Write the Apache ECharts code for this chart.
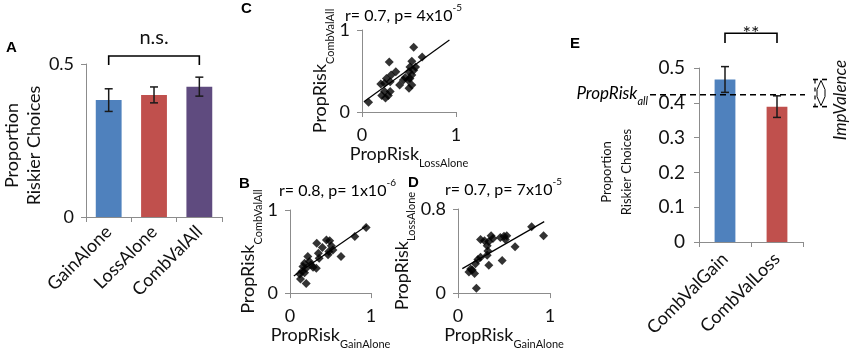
<!DOCTYPE html>
<html>
<head>
<meta charset="utf-8">
<script src="https://cdn.jsdelivr.net/npm/echarts@6/dist/echarts.min.js"></script>
<style>
  html, body { margin: 0; padding: 0; background: #fff; }
  #main { width: 851px; height: 351px; }
</style>
</head>
<body>
<div id="main"></div>
<script>
// ---- panel A: bar chart ----
const catsA = ['GainAlone', 'LossAlone', 'CombValAll'];
const meanA = [0.382, 0.399, 0.426];
const errA = [0.037, 0.026, 0.031];
const ticksA = [0, 0.5];

// ---- panel E: bar chart ----
const catsE = ['CombValGain', 'CombValLoss'];
const meanE = [0.467, 0.389];
const errE = [0.037, 0.031];
const propRiskAll = 0.423;

// ---- scatter panels, [x, y] ----
const scatterC = [
  [0.07, 0.12], [0.55, 0.79], [0.64, 0.67], [0.29, 0.61], [0.36, 0.49], [0.31, 0.45],
  [0.26, 0.41], [0.24, 0.35], [0.20, 0.34], [0.30, 0.37], [0.40, 0.33], [0.46, 0.42],
  [0.50, 0.49], [0.51, 0.55], [0.53, 0.62], [0.55, 0.51], [0.51, 0.41], [0.49, 0.39],
  [0.53, 0.45], [0.53, 0.33], [0.50, 0.29], [0.24, 0.25], [0.30, 0.25], [0.21, 0.20],
  [0.28, 0.20], [0.25, 0.17], [0.44, 0.39], [0.57, 0.55]
];
const fitC = [[0.02, 0.126], [0.93, 0.878]];

const scatterB = [
  [0.94, 0.79], [0.80, 0.68], [0.63, 0.44], [0.33, 0.60], [0.45, 0.64], [0.49, 0.63],
  [0.51, 0.57], [0.53, 0.52], [0.48, 0.50], [0.47, 0.46], [0.35, 0.48], [0.36, 0.42],
  [0.22, 0.44], [0.24, 0.38], [0.18, 0.36], [0.26, 0.34], [0.325, 0.30], [0.16, 0.32],
  [0.20, 0.30], [0.15, 0.26], [0.12, 0.23], [0.18, 0.245], [0.13, 0.17], [0.20, 0.115],
  [0.40, 0.55], [0.285, 0.31]
];
const fitB = [[0.047, 0.206], [0.95, 0.814]];

const scatterD = [
  [0.80, 0.63], [0.93, 0.545], [0.62, 0.44], [0.48, 0.31], [0.50, 0.54], [0.515, 0.51],
  [0.46, 0.53], [0.36, 0.545], [0.245, 0.51], [0.335, 0.49], [0.317, 0.45], [0.325, 0.40],
  [0.317, 0.36], [0.335, 0.265], [0.245, 0.34], [0.216, 0.32], [0.19, 0.28], [0.137, 0.23],
  [0.119, 0.20], [0.18, 0.187], [0.155, 0.22], [0.20, 0.047], [0.53, 0.545], [0.288, 0.497],
  [0.38, 0.52]
];
const fitD = [[0.047, 0.233], [0.937, 0.68]];

const FONT = 'Lato';
const GRAY = '#8c8c8c';
const INK = '#111';
const barColorsA = ['#4f81bd', '#c0504d', '#5f4b7f'];
const barColorsE = ['#4f81bd', '#c0504d'];

const chart = echarts.init(document.getElementById('main'));

const axisLine = { show: true, onZero: false, lineStyle: { color: GRAY, width: 1 } };
const axisTick = { show: true, length: 5, lineStyle: { color: GRAY, width: 1 } };

const subRich = {
  m: { fontFamily: FONT, fontSize: 18, color: INK, lineHeight: 24, verticalAlign: 'top' },
  s: { fontFamily: FONT, fontSize: 11, color: INK, lineHeight: 11, verticalAlign: 'bottom' }
};
const supRich = {
  m: { fontFamily: FONT, fontSize: 16, color: INK, lineHeight: 21, verticalAlign: 'bottom' },
  s: { fontFamily: FONT, fontSize: 10, color: INK, lineHeight: 10, verticalAlign: 'top' }
};

const grids = [
  { left: 73, top: 64, width: 149, height: 153 },   // A
  { left: 362, top: 30, width: 94, height: 82 },    // C
  { left: 290, top: 210, width: 81, height: 86 },   // B
  { left: 458, top: 209, width: 92, height: 86 },   // D
  { left: 699, top: 68, width: 104, height: 174 }   // E
];

const catAxis = (gi, cats, margin) => ({
  type: 'category', gridIndex: gi, data: cats,
  axisLine, axisTick: Object.assign({}, axisTick, { alignWithLabel: false }),
  axisLabel: { rotate: 45, margin, fontFamily: FONT, fontSize: 18, color: INK }
});

const valAxis = (gi, max, interval, extra) => Object.assign({
  type: 'value', gridIndex: gi, min: 0, max, interval,
  axisLine, axisTick, splitLine: { show: false },
  axisLabel: { margin: 12, fontFamily: FONT, fontSize: 18, color: INK }
}, extra || {});

const subName = (main, sub) => `{m|${main}}{s|${sub}}`;

const scatterX = (gi, sub, gap) => valAxis(gi, 1, 1, {
  name: subName('PropRisk', sub), nameLocation: 'middle', nameGap: gap,
  nameTextStyle: { rich: subRich },
  axisLabel: { margin: 14, fontFamily: FONT, fontSize: 18, color: INK }
});
const scatterY = (gi, max, sub, gap) => valAxis(gi, max, max, {
  name: subName('PropRisk', sub), nameLocation: 'middle', nameGap: gap,
  nameTextStyle: { rich: subRich }
});

function errSeries(xi, cats, means, errs) {
  return {
    type: 'custom', xAxisIndex: xi, yAxisIndex: xi, z: 5, silent: true,
    data: cats.map((c, i) => [i, means[i] - errs[i], means[i] + errs[i]]),
    renderItem: (params, api) => {
      const lo = api.coord([api.value(0), api.value(1)]);
      const hi = api.coord([api.value(0), api.value(2)]);
      const w = 4;
      const st = { stroke: '#1a1a1a', lineWidth: 1.5 };
      return {
        type: 'group', children: [
          { type: 'line', shape: { x1: hi[0], y1: hi[1], x2: lo[0], y2: lo[1] }, style: st },
          { type: 'line', shape: { x1: hi[0] - w, y1: hi[1], x2: hi[0] + w, y2: hi[1] }, style: st },
          { type: 'line', shape: { x1: lo[0] - w, y1: lo[1], x2: lo[0] + w, y2: lo[1] }, style: st }
        ]
      };
    }
  };
}

// significance bracket between two categories
function bracketSeries(xi, from, to, top, tip, label, dy) {
  return {
    type: 'custom', xAxisIndex: xi, yAxisIndex: xi, silent: true, clip: false,
    data: [[from, to, top, tip]],
    renderItem: (params, api) => {
      const a = api.coord([api.value(0), api.value(2)]);
      const b = api.coord([api.value(1), api.value(2)]);
      const t = api.coord([api.value(0), api.value(3)]);
      const st = { stroke: '#000', lineWidth: 1.6, fill: null };
      return {
        type: 'group', children: [
          { type: 'polyline', shape: { points: [[a[0], t[1]], a, b, [b[0], t[1]]] }, style: st },
          {
            type: 'text', x: (a[0] + b[0]) / 2, y: a[1] + dy,
            style: { text: label, font: `20px ${FONT}`, fill: INK, textAlign: 'center', textVerticalAlign: 'bottom' }
          }
        ]
      };
    }
  };
}

// dashed mean line + ImpValence marker on panel E
const refSeries = {
  type: 'custom', xAxisIndex: 4, yAxisIndex: 4, silent: true, clip: false, z: 6,
  data: [[propRiskAll, meanE[0], meanE[1]]],
  renderItem: (params, api) => {
    const cs = params.coordSys;
    const y = api.coord([0, api.value(0)])[1];
    const yt = api.coord([0, api.value(1)])[1];
    const yb = api.coord([0, api.value(2)])[1];
    const x0 = cs.x - 49, x1 = cs.x + cs.width + 2;
    const st = { stroke: '#000', lineWidth: 1.6, lineDash: [6, 4] };
    const thin = { stroke: '#000', lineWidth: 1, fill: null };
    const cx = x1 + 16;
    const children = [
      { type: 'line', shape: { x1: x0, y1: y, x2: x1, y2: y }, style: st },
      {
        type: 'text', x: x0 - 2, y: y + 1,
        style: {
          text: '{m|PropRisk}{s|all}', textAlign: 'right', textVerticalAlign: 'middle',
          rich: {
            m: { fontFamily: FONT, fontStyle: 'italic', fontSize: 17, color: INK, lineHeight: 22, verticalAlign: 'top' },
            s: { fontFamily: FONT, fontStyle: 'italic', fontSize: 11, color: INK, lineHeight: 11, verticalAlign: 'bottom' }
          }
        }
      },
      { type: 'line', shape: { x1: x1 + 10, y1: yt, x2: x1 + 10, y2: yb }, style: { stroke: '#000', lineWidth: 1.2, lineDash: [4, 4] } },
      { type: 'polyline', shape: { points: [[cx - 4, yt + 10], [cx, yt + 1], [cx + 4, yt + 10]] }, style: thin },
      { type: 'polyline', shape: { points: [[cx - 4, yb - 10], [cx, yb - 1], [cx + 4, yb - 10]] }, style: thin },
      { type: 'line', shape: { x1: cx - 4, y1: yt + 10, x2: cx - 4, y2: yb - 10 }, style: thin },
      { type: 'line', shape: { x1: cx + 4, y1: yt + 10, x2: cx + 4, y2: yb - 10 }, style: thin }
    ];
    [yt, yb].forEach(yy => {
      children.push({ type: 'line', shape: { x1: x1 + 8, y1: yy, x2: x1 + 13, y2: yy }, style: { stroke: '#000', lineWidth: 1.6 } });
      children.push({ type: 'line', shape: { x1: x1 + 17, y1: yy, x2: x1 + 22, y2: yy }, style: { stroke: '#000', lineWidth: 1.6 } });
    });
    return { type: 'group', children };
  }
};

const scatterSeries = (gi, data) => ({
  type: 'scatter', xAxisIndex: gi, yAxisIndex: gi, data,
  symbol: 'diamond', symbolSize: 9, itemStyle: { color: '#000' }, silent: true
});
const fitSeries = (gi, data) => ({
  type: 'line', xAxisIndex: gi, yAxisIndex: gi, data, showSymbol: false, silent: true,
  lineStyle: { color: '#000', width: 1.2 }, z: 3
});

const letter = (txt, left, top) => ({
  type: 'text', left, top,
  style: { text: txt, font: 'bold 15px "Liberation Sans"', fill: '#000' }
});
const stat = (txt, sup, left, top) => ({
  type: 'text', left, top,
  style: { text: `{m|${txt}}{s|${sup}}`, rich: supRich }
});

chart.setOption({
  animation: false,
  grid: grids,
  xAxis: [
    catAxis(0, catsA, 12),
    scatterX(1, 'LossAlone', 26),
    scatterX(2, 'GainAlone', 30),
    scatterX(3, 'GainAlone', 30),
    catAxis(4, catsE, 14)
  ],
  yAxis: [
    valAxis(0, ticksA[1], ticksA[1], {
      name: 'Proportion\nRiskier Choices', nameLocation: 'middle', nameGap: 30,
      nameTextStyle: { fontFamily: FONT, fontSize: 18, color: INK, lineHeight: 22, padding: [0, 10, 0, 0] }
    }),
    scatterY(1, 1, 'CombValAll', 22),
    scatterY(2, 1, 'CombValAll', 20),
    scatterY(3, 0.8, 'LossAlone', 34),
    valAxis(4, 0.5, 0.1, {
      name: 'Proportion\nRiskier Choices', nameLocation: 'middle', nameGap: 62,
      axisLabel: { margin: 14, fontFamily: FONT, fontSize: 19, color: INK },
      nameTextStyle: { fontFamily: FONT, fontSize: 13, color: INK, lineHeight: 20, padding: [0, 34, 0, 0] }
    })
  ],
  series: [
    {
      type: 'bar', xAxisIndex: 0, yAxisIndex: 0, barWidth: '57%', silent: true,
      data: meanA.map((v, i) => ({ value: v, itemStyle: { color: barColorsA[i] } }))
    },
    errSeries(0, catsA, meanA, errA),
    bracketSeries(0, 0, 2, 0.526, 0.497, 'n.s.', -8),
    scatterSeries(1, scatterC), fitSeries(1, fitC),
    scatterSeries(2, scatterB), fitSeries(2, fitB),
    scatterSeries(3, scatterD), fitSeries(3, fitD),
    {
      type: 'bar', xAxisIndex: 4, yAxisIndex: 4, barWidth: '40%', silent: true,
      data: meanE.map((v, i) => ({ value: v, itemStyle: { color: barColorsE[i] } }))
    },
    errSeries(4, catsE, meanE, errE),
    bracketSeries(4, 0, 1, 0.60, 0.572, '**', 10),
    refSeries
  ],
  graphic: [
    letter('A', 6, 40), letter('C', 241, 1), letter('B', 239, 176),
    letter('D', 408, 175), letter('E', 570, 36),
    stat('r= 0.7, p= 4x10', '-5', 345, 3),
    stat('r= 0.8, p= 1x10', '-6', 279, 178),
    stat('r= 0.7, p= 7x10', '-5', 445, 177),
    {
      type: 'text', x: 841, y: 100, rotation: Math.PI / 2,
      style: { text: 'ImpValence', font: `italic 17px ${FONT}`, fill: INK, textAlign: 'center', textVerticalAlign: 'middle' }
    }
  ]
});
</script>
</body>
</html>
